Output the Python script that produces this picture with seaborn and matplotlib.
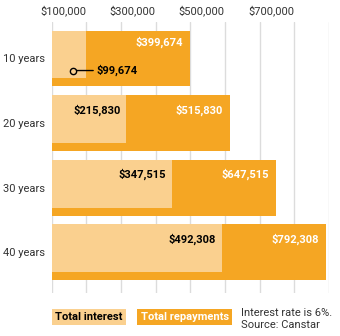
import matplotlib
matplotlib.use("Agg")
import matplotlib.pyplot as plt
import matplotlib.transforms as mtransforms
from matplotlib.patches import Rectangle
import seaborn as sns
import pandas as pd

# ---- data ----
terms = ["10 years", "20 years", "30 years", "40 years"]
total_interest = [99674, 215830, 347515, 492308]
total_repayments = [399674, 515830, 647515, 792308]
tick_values = [0, 100000, 200000, 300000, 400000, 500000, 600000, 700000, 800000]
tick_labels = ["", "$100,000", "", "$300,000", "", "$500,000", "", "$700,000", ""]
legend_labels = ["Total interest", "Total repayments"]
note_text = "Interest rate is 6%.\nSource: Canstar"

DARK = "#F5A623"
LIGHT = "#FAD08F"
GRID = "#DCDCDC"
TXT = "#333333"

sns.set_theme(style="white")
plt.rcParams["font.family"] = ["Roboto", "DejaVu Sans"]

df = pd.DataFrame({"term": terms, "interest": total_interest, "total": total_repayments})

fig = plt.figure(figsize=(3.4, 3.36), dpi=100)
ax = fig.add_axes([0.152, 0.128, 0.815, 0.807])

W_DARK = 0.865
W_LIGHT = 0.74

sns.barplot(data=df, y="term", x="total", color=DARK, width=W_DARK,
            saturation=1, ax=ax, orient="h", zorder=2)
n_dark = len(ax.patches)
sns.barplot(data=df, y="term", x="interest", color=LIGHT, width=W_LIGHT,
            saturation=1, ax=ax, orient="h", zorder=3)
# top-align the interest bars with the repayment bars
for p in ax.patches[n_dark:]:
    p.set_y(p.get_y() - (W_DARK - W_LIGHT) / 2)
for p in ax.patches:
    p.set_linewidth(0)

ax.set_xlim(0, 800000)
ax.set_ylim(3.63, -0.567)
ax.set_xlabel("")
ax.set_ylabel("")
for s in ax.spines.values():
    s.set_visible(False)

ax.set_xticks(tick_values)
ax.set_xticklabels(tick_labels)
ax.xaxis.tick_top()
ax.tick_params(axis="x", length=0, pad=4, labelsize=8, colors=TXT)
for lab in ax.get_xticklabels():
    lab.set_horizontalalignment("right")
ax.tick_params(axis="y", length=0, pad=5, labelsize=8, colors=TXT)
ax.grid(axis="x", color=GRID, linewidth=1, zorder=0)
ax.set_axisbelow(True)

# value labels
for i, (intr, tot) in enumerate(zip(total_interest, total_repayments)):
    top = i - W_DARK / 2
    dy = -12 if i == 0 else -15
    ax.annotate(f"${tot:,}", xy=(tot, top), xytext=(-7, dy), textcoords="offset pixels",
                ha="right", va="center", color="white", fontsize=8, fontweight="bold", zorder=5)
    if i == 0:
        # callout for the short interest bar
        off = mtransforms.offset_copy(ax.transData, fig=fig, x=0, y=-40, units="dots")
        lx = mtransforms.offset_copy(ax.transData, fig=fig, x=-13, y=-40, units="dots")
        rx = mtransforms.offset_copy(ax.transData, fig=fig, x=7, y=-40, units="dots")
        ax.annotate("", xy=(intr, top), xycoords=rx, xytext=(intr, top), textcoords=lx,
                    arrowprops=dict(arrowstyle="-", color="black", lw=1, shrinkA=0, shrinkB=0),
                    zorder=5)
        ax.plot([intr], [top], transform=lx, marker="o", markersize=4.5,
                markerfacecolor=LIGHT, markeredgecolor="black", markeredgewidth=1, zorder=6)
        ax.annotate(f"${intr:,}", xy=(intr, top), xytext=(10, -40), textcoords="offset pixels",
                    ha="left", va="center", color="black", fontsize=8, fontweight="bold", zorder=5)
    else:
        ax.annotate(f"${intr:,}", xy=(intr, top), xytext=(-6, dy), textcoords="offset pixels",
                    ha="right", va="center", color="black", fontsize=8, fontweight="bold", zorder=5)

# legend boxes
fig.patches.append(Rectangle((0.152, 0.0327), 0.2185, 0.0467, transform=fig.transFigure,
                             facecolor=LIGHT, edgecolor="none"))
fig.text(0.2614, 0.056, legend_labels[0], ha="center", va="center", fontsize=8,
         fontweight="bold", color="black")
fig.patches.append(Rectangle((0.404, 0.0327), 0.279, 0.0467, transform=fig.transFigure,
                             facecolor=DARK, edgecolor="none"))
fig.text(0.5435, 0.056, legend_labels[1], ha="center", va="center", fontsize=8,
         fontweight="bold", color="white")
fig.text(0.708, 0.051, note_text, ha="left", va="center", fontsize=8, color=TXT,
         linespacing=1.3)

fig.savefig("out.png", dpi=100)
